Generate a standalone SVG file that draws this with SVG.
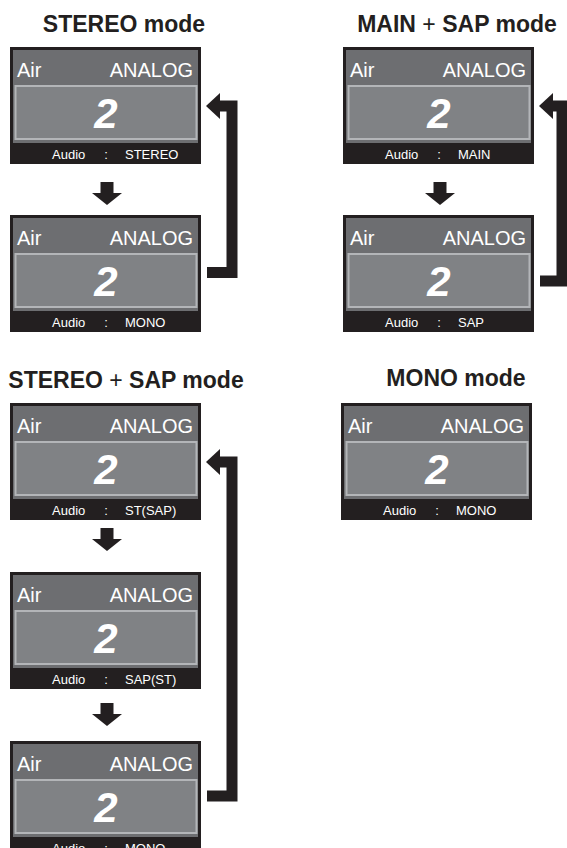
<svg xmlns="http://www.w3.org/2000/svg" xmlns:xlink="http://www.w3.org/1999/xlink" width="567" height="848" viewBox="0 0 567 848">
<style>
text{font-family:"Liberation Sans",Arial,Helvetica,sans-serif}
.title{font-size:23px;font-weight:bold;fill:#231f20;text-anchor:middle}
.plus{font-weight:normal}
.top{font-size:20px;fill:#ffffff}
.end{text-anchor:end}
.num{font-size:42px;font-weight:bold;font-style:italic;fill:#ffffff;text-anchor:middle}
.aud{font-size:13px;fill:#ffffff}
.mid{text-anchor:middle}
.conn{fill:none;stroke:#231f20;stroke-linejoin:miter}
</style>
<defs>
<g id="shell">
<rect width="191" height="117" fill="#231f20"/>
<rect x="3" y="3" width="185" height="93" fill="#6d6e71"/>
<rect x="5.5" y="39" width="181" height="53" fill="#808285" stroke="#b3b5b8" stroke-width="2"/>
</g>
<marker id="headL" markerUnits="userSpaceOnUse" viewBox="0 -14 15 28" markerWidth="15" markerHeight="28" refX="0" refY="0" orient="auto">
<polygon points="0,-13 14,0 0,13" fill="#231f20"/>
</marker>
<marker id="headD" markerUnits="userSpaceOnUse" viewBox="0 -16 13 32" markerWidth="13" markerHeight="32" refX="0" refY="0" orient="auto">
<polygon points="0,-15 12,0 0,15" fill="#231f20"/>
</marker>
</defs>

<text class="title" x="124" y="32">STEREO mode</text>
<text class="title" x="457" y="32">MAIN <tspan class="plus">+</tspan> SAP mode</text>
<text class="title" x="126" y="388">STEREO <tspan class="plus">+</tspan> SAP mode</text>
<text class="title" x="456" y="386">MONO mode</text>

<g id="stereo-1" transform="translate(10,47)">
<use xlink:href="#shell"/>
<text class="top" x="7" y="30">Air</text><text class="top end" x="183" y="30">ANALOG</text>
<text class="num" x="96" y="81">2</text>
<text class="aud" x="42" y="112">Audio</text><text class="aud mid" x="96" y="112">:</text><text class="aud" x="115" y="112">STEREO</text>
</g>
<g id="stereo-2" transform="translate(10,215)">
<use xlink:href="#shell"/>
<text class="top" x="7" y="30">Air</text><text class="top end" x="183" y="30">ANALOG</text>
<text class="num" x="96" y="81">2</text>
<text class="aud" x="42" y="112">Audio</text><text class="aud mid" x="96" y="112">:</text><text class="aud" x="115" y="112">MONO</text>
</g>
<g id="mainsap-1" transform="translate(343,47)">
<use xlink:href="#shell"/>
<text class="top" x="7" y="30">Air</text><text class="top end" x="183" y="30">ANALOG</text>
<text class="num" x="96" y="81">2</text>
<text class="aud" x="42" y="112">Audio</text><text class="aud mid" x="96" y="112">:</text><text class="aud" x="115" y="112">MAIN</text>
</g>
<g id="mainsap-2" transform="translate(343,215)">
<use xlink:href="#shell"/>
<text class="top" x="7" y="30">Air</text><text class="top end" x="183" y="30">ANALOG</text>
<text class="num" x="96" y="81">2</text>
<text class="aud" x="42" y="112">Audio</text><text class="aud mid" x="96" y="112">:</text><text class="aud" x="115" y="112">SAP</text>
</g>
<g id="stereosap-1" transform="translate(10,403)">
<use xlink:href="#shell"/>
<text class="top" x="7" y="30">Air</text><text class="top end" x="183" y="30">ANALOG</text>
<text class="num" x="96" y="81">2</text>
<text class="aud" x="42" y="112">Audio</text><text class="aud mid" x="96" y="112">:</text><text class="aud" x="115" y="112">ST(SAP)</text>
</g>
<g id="stereosap-2" transform="translate(10,572)">
<use xlink:href="#shell"/>
<text class="top" x="7" y="30">Air</text><text class="top end" x="183" y="30">ANALOG</text>
<text class="num" x="96" y="81">2</text>
<text class="aud" x="42" y="112">Audio</text><text class="aud mid" x="96" y="112">:</text><text class="aud" x="115" y="112">SAP(ST)</text>
</g>
<g id="stereosap-3" transform="translate(10,741)">
<use xlink:href="#shell"/>
<text class="top" x="7" y="30">Air</text><text class="top end" x="183" y="30">ANALOG</text>
<text class="num" x="96" y="81">2</text>
<text class="aud" x="42" y="112">Audio</text><text class="aud mid" x="96" y="112">:</text><text class="aud" x="115" y="112">MONO</text>
</g>
<g id="mono-1" transform="translate(341,403)">
<use xlink:href="#shell"/>
<text class="top" x="7" y="30">Air</text><text class="top end" x="183" y="30">ANALOG</text>
<text class="num" x="96" y="81">2</text>
<text class="aud" x="42" y="112">Audio</text><text class="aud mid" x="96" y="112">:</text><text class="aud" x="115" y="112">MONO</text>
</g>

<g id="connectors">
<path class="conn" stroke-width="13" d="M107,182 V193" marker-end="url(#headD)"/>
<path class="conn" stroke-width="13" d="M440,182 V193" marker-end="url(#headD)"/>
<path class="conn" stroke-width="13" d="M107,528 V539" marker-end="url(#headD)"/>
<path class="conn" stroke-width="13" d="M107,703 V714" marker-end="url(#headD)"/>
<path class="conn" stroke-width="11" d="M207,272.5 H232 V106 H220" marker-end="url(#headL)"/>
<path class="conn" stroke-width="11" d="M540,281 H562 V106 H553" marker-end="url(#headL)"/>
<path class="conn" stroke-width="11" d="M207,796 H232 V462 H220" marker-end="url(#headL)"/>
</g>
</svg>
